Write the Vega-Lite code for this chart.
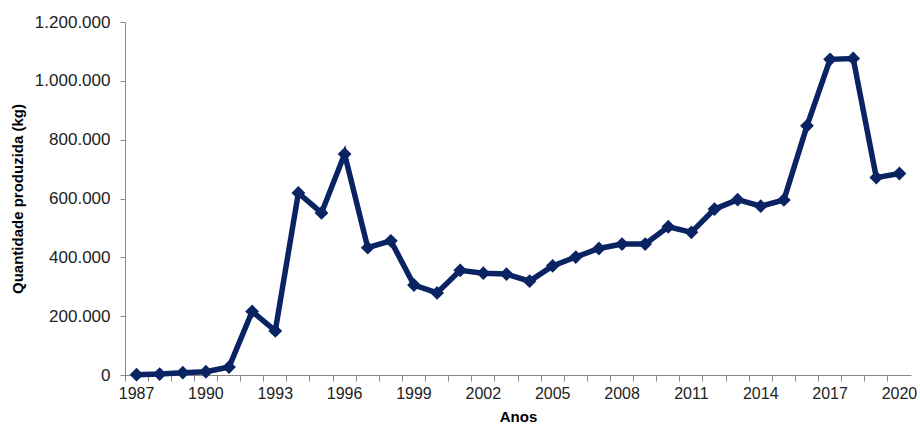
{
  "$schema": "https://vega.github.io/schema/vega-lite/v6.json",
  "autosize": "none",
  "width": 786,
  "height": 353,
  "padding": {"left": 125, "top": 22, "right": 9, "bottom": 53},
  "background": "white",
  "config": {
    "view": {"stroke": null},
    "font": "Liberation Sans",
    "axis": {"labelFont": "Liberation Sans", "titleFont": "Liberation Sans"}
  },
  "data": {
    "values": [
      {"ano": 1987, "kg": 1000},
      {"ano": 1988, "kg": 3000},
      {"ano": 1989, "kg": 8000},
      {"ano": 1990, "kg": 11000},
      {"ano": 1991, "kg": 27000},
      {"ano": 1992, "kg": 216000},
      {"ano": 1993, "kg": 150000},
      {"ano": 1994, "kg": 619000},
      {"ano": 1995, "kg": 551000},
      {"ano": 1996, "kg": 751000},
      {"ano": 1997, "kg": 433000},
      {"ano": 1998, "kg": 456000},
      {"ano": 1999, "kg": 306000},
      {"ano": 2000, "kg": 279000},
      {"ano": 2001, "kg": 356000},
      {"ano": 2002, "kg": 346000},
      {"ano": 2003, "kg": 343000},
      {"ano": 2004, "kg": 319000},
      {"ano": 2005, "kg": 371000},
      {"ano": 2006, "kg": 401000},
      {"ano": 2007, "kg": 430000},
      {"ano": 2008, "kg": 445000},
      {"ano": 2009, "kg": 445000},
      {"ano": 2010, "kg": 504000},
      {"ano": 2011, "kg": 485000},
      {"ano": 2012, "kg": 564000},
      {"ano": 2013, "kg": 596000},
      {"ano": 2014, "kg": 574000},
      {"ano": 2015, "kg": 595000},
      {"ano": 2016, "kg": 847000},
      {"ano": 2017, "kg": 1073000},
      {"ano": 2018, "kg": 1076000},
      {"ano": 2019, "kg": 671000},
      {"ano": 2020, "kg": 685000}
    ]
  },
  "encoding": {
    "x": {
      "field": "ano",
      "type": "ordinal",
      "scale": {"type": "band", "paddingInner": 0, "paddingOuter": 0},
      "axis": {
        "title": "Anos",
        "titleFontSize": 15,
        "titleFontWeight": "bold",
        "titleColor": "#000",
        "titlePadding": 8,
        "labelAngle": 0,
        "labelFontSize": 16,
        "labelColor": "#222",
        "labelPadding": 4,
        "bandPosition": 0,
        "labelExpr": "(datum.value - 1987) % 3 == 0 ? datum.label : ''",
        "labelOverlap": false,
        "domainColor": "#888",
        "tickColor": "#888",
        "tickSize": 6,
        "grid": false
      }
    },
    "y": {
      "field": "kg",
      "type": "quantitative",
      "scale": {"domain": [0, 1200000], "nice": false},
      "axis": {
        "title": "Quantidade produzida (kg)",
        "titleFontSize": 15,
        "titleFontWeight": "bold",
        "titleColor": "#000",
        "titlePadding": 9,
        "values": [0, 200000, 400000, 600000, 800000, 1000000, 1200000],
        "labelExpr": "replace(format(datum.value, ','), /,/g, '.')",
        "labelFontSize": 17,
        "labelColor": "#222",
        "labelPadding": 10,
        "domainColor": "#888",
        "tickColor": "#888",
        "tickSize": 5,
        "grid": false
      }
    }
  },
  "layer": [
    {"mark": {"type": "line", "color": "#0a2463", "strokeWidth": 5.5, "strokeJoin": "miter"}},
    {"mark": {"type": "point", "shape": "diamond", "filled": true, "opacity": 1, "color": "#0a2463", "size": 190}}
  ]
}
